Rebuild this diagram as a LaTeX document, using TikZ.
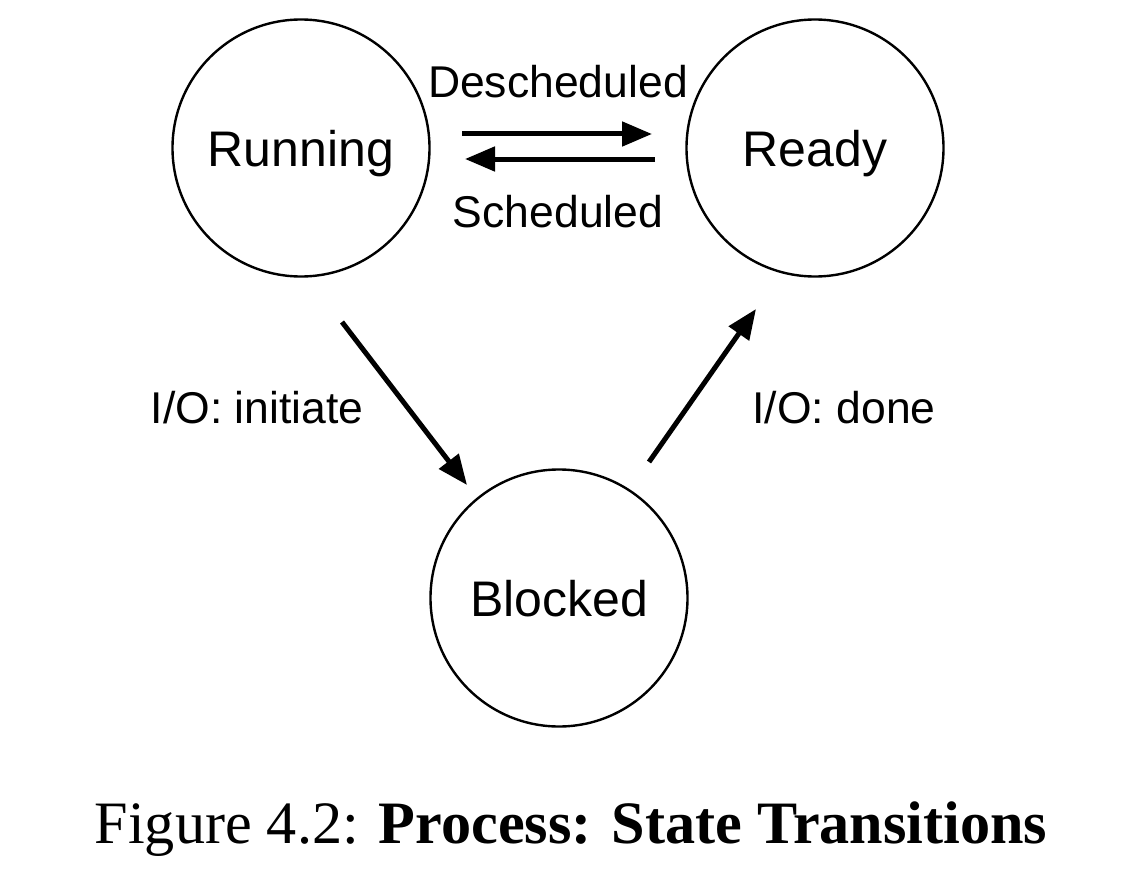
\documentclass[tikz,border=0pt]{standalone}
\usepackage{fontspec}
\setsansfont{Liberation Sans}
\newfontfamily\captionfont{Liberation Serif}
\usetikzlibrary{arrows.meta,calc}
\begin{document}
\begin{tikzpicture}[x=1pt,y=-1pt,
  state/.style={circle,draw,line width=2.4pt,minimum size=257pt,inner sep=0pt,
    font=\sffamily\fontsize{50}{60}\selectfont,text height=36pt,text depth=0pt},
  edgelabel/.style={anchor=base,inner sep=0pt,font=\sffamily\fontsize{44.5}{53}\selectfont},
  trans/.style={line width=5pt,-{Triangle[length=30pt,width=24pt]}}]
  \useasboundingbox (0,0) rectangle (1124,880);
  % states
  \node[state] (running) at (301,148) {Running};
  \node[state] (ready)   at (815,148) {Ready};
  \node[state] (blocked) at (559,598) {Blocked};
  % transitions
  \draw[trans] ($(running)+(161,-14)$) -- ($(ready)+(-163,-14)$);
  \draw[trans] ($(ready)+(-160,11)$) -- ($(running)+(164,11)$);
  \draw[trans] ($(running)+(41,174)$) -- ($(blocked)+(-92,-113)$);
  \draw[trans] ($(blocked)+(90,-136)$) -- ($(ready)+(-59,161)$);
  % transition labels
  \node[edgelabel] (ldesched) at (558,98) {Descheduled};
  \node[edgelabel] (lsched)   at (558,227) {Scheduled};
  \node[edgelabel] (linit)    at (257,423) {I/O: initiate};
  \node[edgelabel] (ldone)    at (844,423) {I/O: done};
  % caption
  \node[anchor=base,inner sep=0pt,font=\captionfont\fontsize{60.2}{72}\selectfont] (caption) at (571,843)
    {Figure 4.2: \textbf{Process: State Transitions}};
\end{tikzpicture}
\end{document}
